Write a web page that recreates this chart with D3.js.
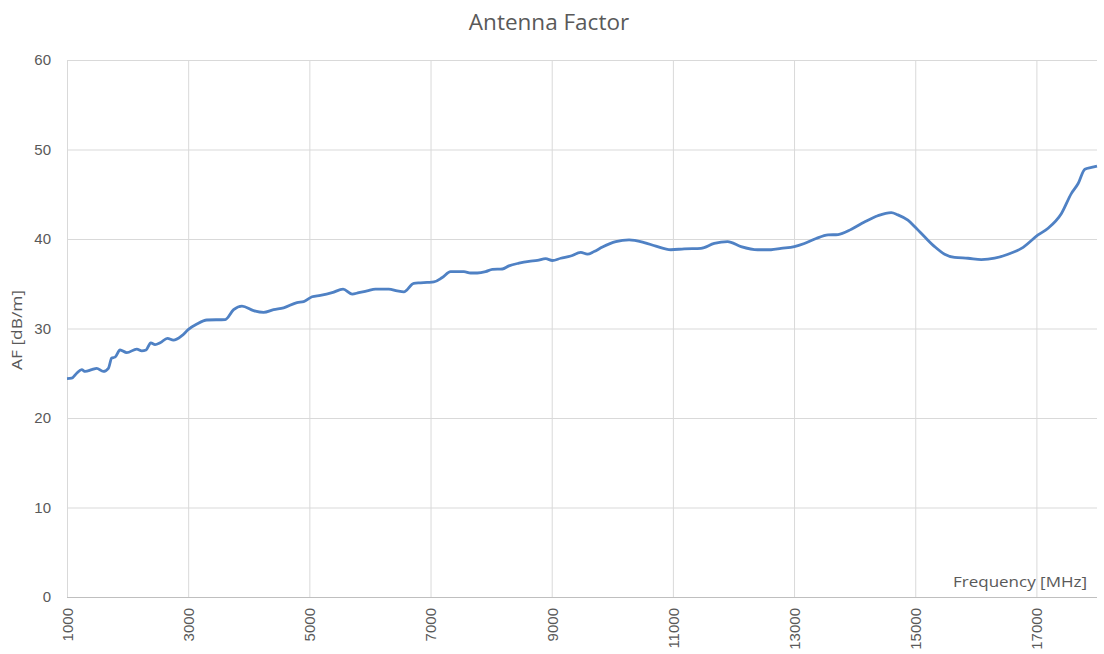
<!DOCTYPE html>
<html><head><meta charset="utf-8">
<script src="https://cdn.jsdelivr.net/npm/d3@7"></script>
<style>body{margin:0;background:#fff;}svg{display:block;font-family:"Open Sans","Noto Sans",sans-serif;}</style>
</head><body><svg id="c" width="1104" height="654"></svg>
<script>
const title = "Antenna Factor";
const xTitle = "Frequency [MHz]";
const yTitle = "AF [dB/m]";
const xTicks = [1000,3000,5000,7000,9000,11000,13000,15000,17000];
const yTicks = [0,10,20,30,40,50,60];
const freq = [1000,1077,1160,1243,1300,1408,1490,1600,1683,1738,1793,1876,1986,2152,2234,2305,2383,2454,2537,2658,2757,2896,3005,3144,3309,3612,3750,3888,4079,4245,4410,4575,4796,4906,5045,5182,5375,5557,5706,5815,5954,6091,6311,6450,6559,6724,6835,6945,7055,7194,7331,7552,7661,7772,7909,8020,8185,8294,8460,8625,8764,8901,9012,9149,9314,9479,9590,9700,9838,10058,10278,10526,10719,10967,11187,11463,11683,11903,12124,12400,12620,12785,13005,13170,13364,13562,13727,13947,14162,14383,14603,14714,14879,15017,15154,15320,15485,15650,15871,16091,16311,16532,16752,17027,17193,17413,17578,17689,17799,17909,18000];
const af = [24.4,24.45,25.0,25.4,25.2,25.4,25.55,25.2,25.55,26.7,26.8,27.6,27.3,27.7,27.5,27.6,28.4,28.2,28.4,28.9,28.7,29.2,29.9,30.5,30.95,31.0,32.1,32.5,32.0,31.8,32.1,32.3,32.9,33.0,33.55,33.7,34.0,34.4,33.85,34.0,34.2,34.4,34.4,34.2,34.1,35.05,35.1,35.15,35.2,35.7,36.35,36.35,36.2,36.2,36.35,36.6,36.65,37.0,37.3,37.5,37.6,37.8,37.6,37.85,38.1,38.5,38.3,38.6,39.1,39.7,39.9,39.6,39.2,38.8,38.9,38.95,39.5,39.7,39.15,38.8,38.8,38.95,39.15,39.5,40.05,40.45,40.5,41.1,41.9,42.6,42.95,42.7,42.1,41.2,40.25,39.15,38.3,37.95,37.85,37.7,37.85,38.3,38.95,40.45,41.2,42.85,45.1,46.2,47.8,48.0,48.15];

const svg = d3.select("#c");
const L = 67, R = 1097, T = 60, B = 597;
const x = d3.scaleLinear().domain([1000,18000]).range([L,R]);
const y = d3.scaleLinear().domain([0,60]).range([B,T]);

// horizontal grid
svg.append("g").attr("transform",`translate(${L},0)`)
  .call(d3.axisLeft(y).tickValues(yTicks).tickSize(-(R-L)).tickFormat(d=>d).tickPadding(16))
  .call(g=>{g.select(".domain").remove();
    g.selectAll(".tick line").attr("stroke","#d9d9d9").attr("stroke-width",1);
    g.selectAll(".tick text").attr("fill","#595959").attr("font-size",15);});

// vertical grid + x labels
svg.append("g").attr("transform",`translate(0,${B})`)
  .call(d3.axisBottom(x).tickValues(xTicks).tickSize(-(B-T)).tickFormat(d=>d))
  .call(g=>{g.select(".domain").remove();
    g.selectAll(".tick line").attr("stroke","#d9d9d9").attr("stroke-width",1);
    g.selectAll(".tick text").attr("fill","#595959").attr("font-size",15)
      .attr("transform","rotate(-90)").attr("text-anchor","end")
      .attr("x",-11).attr("y",0).attr("dy","0.36em");});
svg.append("line").attr("x1",L).attr("x2",R).attr("y1",y(0)+0.5).attr("y2",y(0)+0.5).attr("stroke","#bfbfbf");

const line = d3.line().x((d,i)=>x(freq[i])).y(d=>y(d)).curve(d3.curveMonotoneX);
svg.append("path").datum(af).attr("d",line).attr("fill","none")
  .attr("stroke","#4f81c4").attr("stroke-width",2.8).attr("stroke-linejoin","round");

svg.append("text").attr("x",549).attr("y",30).attr("text-anchor","middle")
  .attr("font-size",22.5).attr("fill","#595959").text(title);
svg.append("text").attr("x",953).attr("y",587).attr("textLength",134).attr("lengthAdjust","spacingAndGlyphs")
  .attr("font-size",15).attr("fill","#595959").text(xTitle);
svg.append("text").attr("transform","translate(22,370) rotate(-90)")
  .attr("textLength",80).attr("lengthAdjust","spacingAndGlyphs")
  .attr("font-size",15).attr("fill","#595959").text(yTitle);
</script></body></html>
